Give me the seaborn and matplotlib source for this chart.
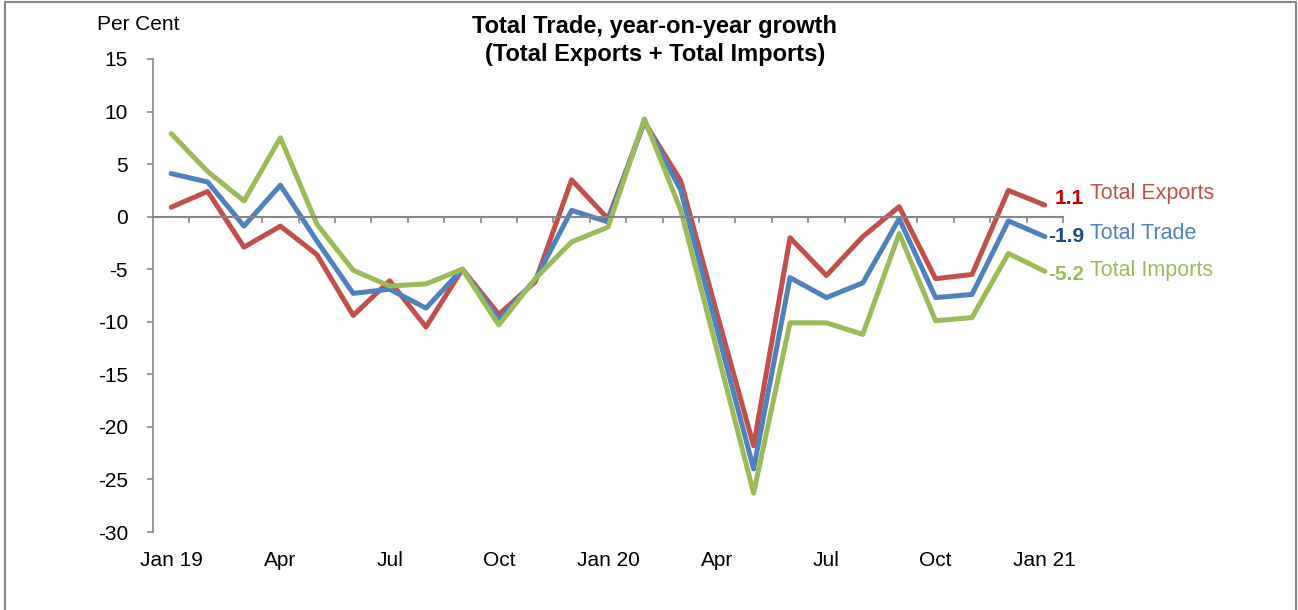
import pandas as pd
import matplotlib
matplotlib.use('Agg')
import matplotlib.pyplot as plt
import seaborn as sns

months = ['Jan 19', 'Feb 19', 'Mar 19', 'Apr 19', 'May 19', 'Jun 19', 'Jul 19', 'Aug 19',
          'Sep 19', 'Oct 19', 'Nov 19', 'Dec 19', 'Jan 20', 'Feb 20', 'Mar 20', 'Apr 20',
          'May 20', 'Jun 20', 'Jul 20', 'Aug 20', 'Sep 20', 'Oct 20', 'Nov 20', 'Dec 20', 'Jan 21']
exports = [0.9, 2.4, -2.9, -0.9, -3.6, -9.4, -6.1, -10.5, -5.0, -9.3, -6.2, 3.5, -0.2,
           9.0, 3.4, -9.3, -21.8, -2.0, -5.6, -1.9, 0.95, -5.9, -5.5, 2.5, 1.1]
trade = [4.1, 3.3, -0.9, 3.0, -2.3, -7.3, -6.9, -8.7, -5.0, -9.8, -6.0, 0.6, -0.5,
         9.1, 2.5, -10.8, -24.0, -5.8, -7.7, -6.3, -0.2, -7.7, -7.4, -0.4, -1.9]
imports = [7.9, 4.3, 1.5, 7.5, -0.7, -5.1, -6.6, -6.4, -5.0, -10.3, -5.9, -2.4, -1.0,
           9.3, 0.6, -12.8, -26.3, -10.1, -10.1, -11.2, -1.6, -9.9, -9.6, -3.5, -5.2]
tick_labels = ['Jan 19', 'Apr', 'Jul', 'Oct', 'Jan 20', 'Apr', 'Jul', 'Oct', 'Jan 21']

series = ['Total Exports', 'Total Trade', 'Total Imports']
colors = {'Total Exports': '#C0504D', 'Total Trade': '#4F81BD', 'Total Imports': '#9BBB59'}
label_colors = {'Total Exports': '#C00000', 'Total Trade': '#1F497D', 'Total Imports': '#9BBB59'}

idx = list(range(len(months)))
df = pd.DataFrame({'idx': idx * 3,
                   'value': exports + trade + imports,
                   'series': [s for s in series for _ in months]})

sns.set_style('white')
plt.rcParams['font.family'] = ['Liberation Sans', 'DejaVu Sans']
plt.rcParams['axes.unicode_minus'] = False
plt.rcParams['text.color'] = 'black'
plt.rcParams['xtick.color'] = 'black'
plt.rcParams['ytick.color'] = 'black'

fig = plt.figure(figsize=(12.98, 6.10), dpi=100)
ax = fig.add_axes([153 / 1298, 1 - 532 / 610, (1063 - 153) / 1298, (532 - 59) / 610])

sns.lineplot(data=df, x='idx', y='value', hue='series', palette=colors,
             hue_order=series, linewidth=3.6, legend=False, ax=ax)

ax.set_xlim(-0.5, len(months) - 0.5)
ax.set_ylim(-30, 15)
ax.set_yticks(range(-30, 16, 5))
ax.set_xlabel('')
ax.set_ylabel('')

gray = '#868686'
for s in ['top', 'right']:
    ax.spines[s].set_visible(False)
ax.spines['left'].set_color(gray)
ax.spines['left'].set_linewidth(1.2)
ax.spines['bottom'].set_position(('data', 0))
ax.spines['bottom'].set_color(gray)
ax.spines['bottom'].set_linewidth(1.5)

ax.set_xticks([i + 0.5 for i in idx])
ax.tick_params(axis='x', bottom=True, direction='out', length=4, width=1.2, color=gray,
               labelbottom=False)
ax.tick_params(axis='y', left=True, direction='out', length=4, width=1.2, color=gray,
               labelsize=15, pad=14, labelcolor='black')

sec = ax.secondary_xaxis('bottom')
sec.set_xticks(idx[::3])
sec.set_xticklabels(tick_labels)
sec.tick_params(length=0, labelsize=15, pad=14, labelcolor='black')
sec.spines['bottom'].set_visible(False)

# end labels
ends = {'Total Exports': (exports[-1], 1.7, 2.2),
        'Total Trade': (trade[-1], -1.9, -1.6),
        'Total Imports': (imports[-1], -5.5, -5.1)}
value_x = {'Total Exports': 24.27, 'Total Trade': 24.08, 'Total Imports': 24.08}
for s, (v, vy, ny) in ends.items():
    ax.text(value_x[s], vy, f'{v:.1f}', color=label_colors[s], fontsize=15,
            fontweight='bold', ha='left', va='center', clip_on=False)
    ax.text(25.25, ny, s, color=colors[s], fontsize=15.5, ha='left', va='center',
            clip_on=False)

fig.text(138 / 1298, 1 - 25 / 610, 'Per Cent', fontsize=15, ha='center', va='center')
fig.text(655 / 1298, 1 - 26 / 610, 'Total Trade, year-on-year growth', fontsize=17,
         fontweight='bold', ha='center', va='center')
fig.text(655 / 1298, 1 - 55 / 610, '(Total Exports + Total Imports)', fontsize=17,
         fontweight='bold', ha='center', va='center')

border = plt.Rectangle((5 / 1298, -0.05), (1296 - 5) / 1298, 1.05 - 2 / 610,
                       transform=fig.transFigure, fill=False, edgecolor=gray, linewidth=1.5)
fig.patches.append(border)

plt.savefig('out.png', dpi=100)
